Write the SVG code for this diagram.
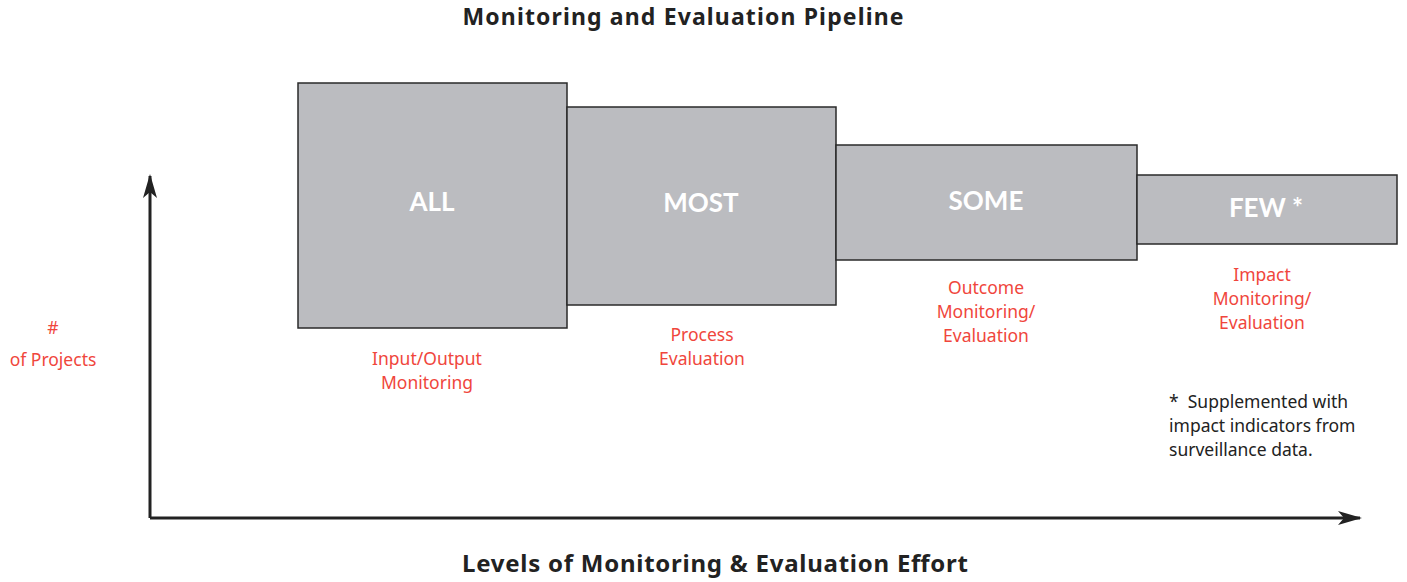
<svg xmlns="http://www.w3.org/2000/svg" width="1407" height="582" viewBox="0 0 1407 582">
<style>
.box{fill:#bbbcc0;stroke:#2a2a2a;stroke-width:1.5}
.big{font-family:Lato,"Liberation Sans",sans-serif;font-weight:bold;font-size:26px;fill:#ffffff;text-anchor:middle}
.lbl{font-family:"Noto Sans","Liberation Sans",sans-serif;font-size:17.5px;fill:#f0463c;text-anchor:middle}
.note{font-family:"Noto Sans","Liberation Sans",sans-serif;font-size:17.5px;fill:#222}
.title{font-family:"Noto Sans","Liberation Sans",sans-serif;font-weight:bold;font-size:23px;fill:#222;text-anchor:middle}
.axis{stroke:#222;stroke-width:3;fill:none}
</style>
<defs>
<marker id="arr" viewBox="0 0 24 14" refX="22" refY="7" markerWidth="24" markerHeight="14" markerUnits="userSpaceOnUse" orient="auto">
<path d="M0,0 L24,7 L0,14 L6,7 Z" fill="#222"/>
</marker>
</defs>
<rect width="1407" height="582" fill="#fff"/>
<text class="title" x="683" y="25" textLength="441" lengthAdjust="spacing">Monitoring and Evaluation Pipeline</text>
<text class="title" x="715" y="572" style="font-size:24px" textLength="506" lengthAdjust="spacing">Levels of Monitoring &amp; Evaluation Effort</text>
<g id="connectors">
<path class="axis" d="M150,518 V176" marker-end="url(#arr)"/>
<path class="axis" d="M150,518 H1360" marker-end="url(#arr)"/>
</g>
<g id="node-all">
<rect class="box" x="298" y="83" width="269" height="245"/>
<text class="big" x="432" y="211">ALL</text>
<text class="lbl" x="427" y="365">Input/Output</text>
<text class="lbl" x="427" y="389">Monitoring</text>
</g>
<g id="node-most">
<rect class="box" x="567" y="107" width="269" height="198"/>
<text class="big" x="701" y="212">MOST</text>
<text class="lbl" x="702" y="341">Process</text>
<text class="lbl" x="702" y="365">Evaluation</text>
</g>
<g id="node-some">
<rect class="box" x="836" y="145" width="301" height="115"/>
<text class="big" x="986" y="210">SOME</text>
<text class="lbl" x="986" y="294">Outcome</text>
<text class="lbl" x="986" y="318">Monitoring/</text>
<text class="lbl" x="986" y="342">Evaluation</text>
</g>
<g id="node-few">
<rect class="box" x="1137" y="175" width="260" height="69"/>
<text class="big" x="1266" y="217">FEW *</text>
<text class="lbl" x="1262" y="281">Impact</text>
<text class="lbl" x="1262" y="305">Monitoring/</text>
<text class="lbl" x="1262" y="329">Evaluation</text>
</g>
<g id="y-label">
<text class="lbl" x="53" y="334">#</text>
<text class="lbl" x="53" y="366">of Projects</text>
</g>
<g id="footnote">
<text class="note" x="1169" y="408" xml:space="preserve">*  Supplemented with</text>
<text class="note" x="1169" y="432">impact indicators from</text>
<text class="note" x="1169" y="456">surveillance data.</text>
</g>
</svg>
